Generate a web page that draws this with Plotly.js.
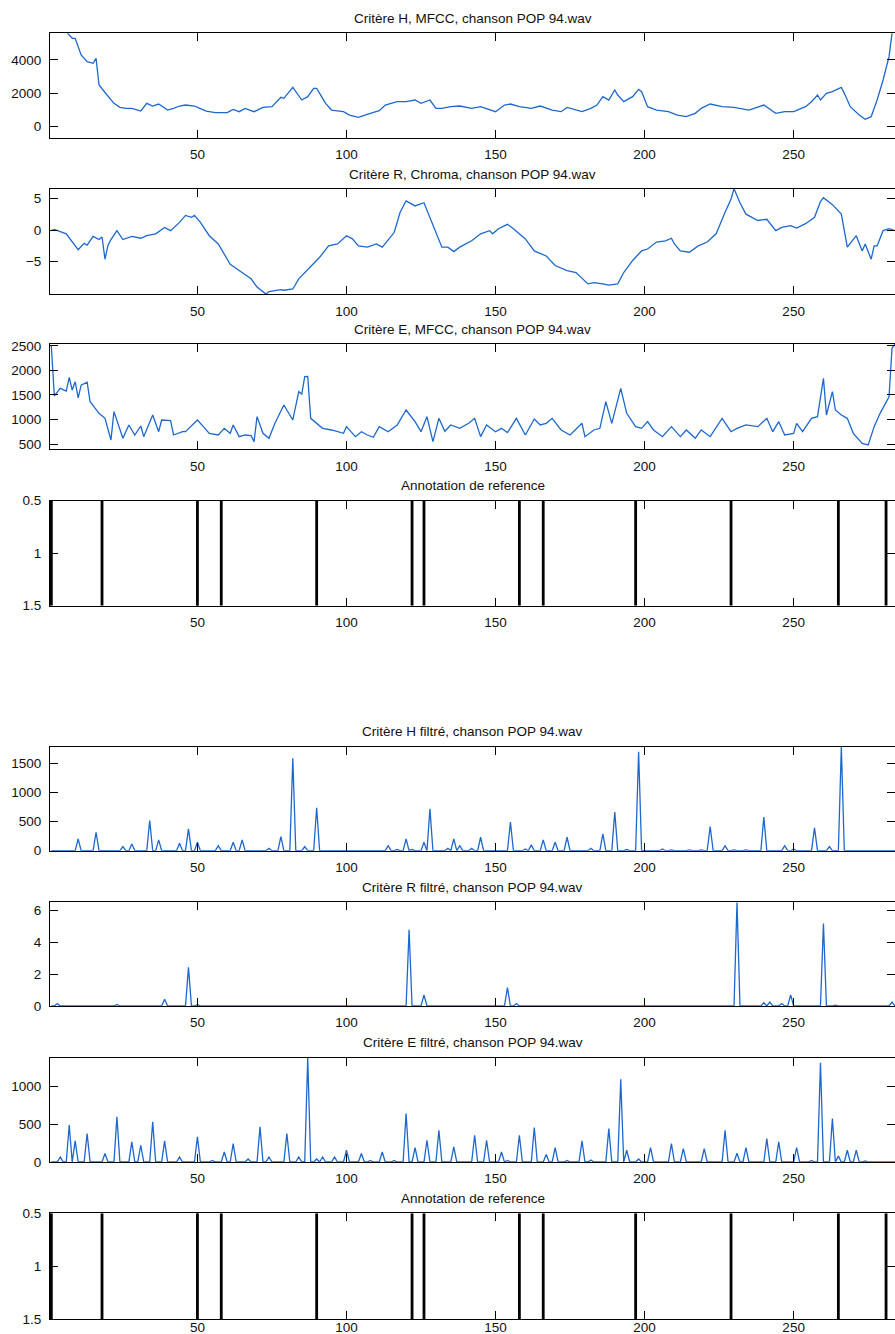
<!DOCTYPE html>
<html>
<head>
<meta charset="utf-8">
<script src="https://cdn.plot.ly/plotly-3.0.1.min.js"></script>
<style>html,body{margin:0;padding:0;background:#fff;}#chart{width:895px;height:1334px;}</style>
</head>
<body>
<div id="chart"></div>
<script>
// ---------- DATA ----------
const titles = [
  "Critère H, MFCC, chanson POP 94.wav",
  "Critère R, Chroma, chanson POP 94.wav",
  "Critère E, MFCC, chanson POP 94.wav",
  "Annotation de reference",
  "Critère H filtré, chanson POP 94.wav",
  "Critère R filtré, chanson POP 94.wav",
  "Critère E filtré, chanson POP 94.wav",
  "Annotation de reference"
];
const nFrames = 284;
const xTicks = [50, 100, 150, 200, 250];

// Critère H (MFCC)
const hX = [1,4,6,8,9,11,13,15,16,17,19,22,24,26,28,31,33,35,37,40,42,44,46,49,50,53,56,60,62,64,66,69,72,75,78,79,82,84,85,87,89,90,93,95,99,101,104,108,111,113,117,120,123,125,128,130,132,135,138,142,145,150,153,155,158,162,165,169,172,174,179,182,184,186,188,190,191,193,195,196,198,199,201,204,208,211,214,217,219,222,226,230,235,238,240,244,247,250,254,256,258,259,261,263,266,267,269,272,274,276,278,280,282,283,284];
const hY = [6800,6000,5700,5300,5300,4300,3900,3800,4100,2500,2050,1400,1160,1100,1100,940,1400,1240,1360,1000,1100,1240,1300,1240,1160,940,840,840,1040,900,1100,900,1160,1200,1760,1700,2360,1800,1600,1800,2300,2300,1400,1000,900,700,560,800,960,1300,1500,1500,1600,1400,1600,1100,1100,1200,1240,1100,1200,900,1300,1360,1200,1100,1240,1000,900,1160,900,1100,1300,1800,1600,2200,1900,1500,1700,1800,2240,2100,1200,1000,900,700,600,800,1100,1360,1200,1160,1000,1200,1300,800,900,900,1200,1500,1900,1600,2000,2100,2360,2000,1200,700,440,600,1600,2800,4200,5600,6400];

// Critère R (Chroma)
const rX = [1,2,6,10,12,13,15,17,18,19,20,21,23,25,28,31,33,36,39,41,44,46,48,49,51,54,57,61,64,68,70,73,74,76,78,79,82,84,87,91,94,97,100,102,104,107,110,112,116,118,120,123,126,128,132,134,136,138,142,145,148,149,151,154,156,160,163,167,170,174,177,181,183,186,188,191,193,196,199,201,204,207,209,210,212,215,218,221,224,227,229,230,232,234,238,241,244,246,249,251,254,257,259,260,263,266,268,271,273,274,276,277,278,280,282,284];
const rY = [-0.1,0.1,-0.6,-3.1,-2.1,-2.4,-1.0,-1.5,-1.1,-4.6,-2.4,-1.5,-0.1,-1.5,-1.0,-1.3,-0.9,-0.6,0.4,-0.1,1.2,2.3,2.0,2.3,1.2,-0.9,-2.2,-5.4,-6.4,-7.7,-9.0,-10.1,-9.7,-9.6,-9.4,-9.5,-9.3,-7.7,-6.2,-4.3,-2.5,-2.2,-0.9,-1.4,-2.5,-2.7,-2.2,-2.7,-0.4,2.8,4.6,3.8,4.3,2.0,-2.7,-2.7,-3.4,-2.7,-1.7,-0.6,-0.1,-0.6,0.2,0.9,0.2,-1.4,-3.3,-4.1,-5.6,-6.4,-6.7,-8.5,-8.3,-8.5,-8.7,-8.5,-6.7,-4.8,-3.3,-3.0,-1.9,-1.7,-1.3,-2.2,-3.3,-3.5,-2.5,-1.9,-0.6,2.8,4.9,6.5,4.3,2.5,1.5,1.7,-0.1,0.4,0.7,0.3,1.0,2.0,4.5,5.1,4.0,2.5,-2.7,-0.9,-3.3,-2.2,-4.6,-2.5,-2.5,-0.1,0.2,-0.1];

// Critère E (MFCC)
const eX = [1,2,4,6,7,8,9,10,11,13,14,17,19,21,22,25,27,29,31,32,35,37,38,41,42,45,46,50,52,54,57,59,61,62,64,66,68,69,70,72,74,76,79,82,84,85,86,87,88,90,92,95,99,100,103,105,107,109,111,114,117,120,123,125,127,129,131,133,135,138,141,143,145,147,150,152,154,157,160,163,165,167,169,172,175,179,180,183,185,187,189,192,194,197,199,201,203,206,209,212,214,217,219,222,226,229,231,234,238,241,243,245,247,250,251,253,256,258,260,261,263,264,266,268,270,273,275,277,279,282,283,284];
const eY = [2500,1480,1636,1580,1860,1600,1770,1440,1700,1760,1363,1126,1023,582,1160,616,888,684,867,650,1092,751,990,976,684,751,751,990,854,718,684,820,718,888,650,684,670,548,1058,718,616,922,1296,990,1567,1520,1873,1880,1024,922,820,786,718,854,650,751,684,637,854,751,888,1194,956,751,1058,548,1024,760,888,820,922,1024,650,888,751,820,732,1024,684,1010,888,922,1024,786,684,922,650,786,820,1363,922,1636,1126,854,820,956,786,650,854,650,786,616,786,650,1024,751,820,888,854,1024,751,956,684,718,922,751,1024,1058,1840,1092,1567,1194,1092,1024,718,514,480,854,1126,1465,2452,2540];

// Annotation de reference : frontières
const boundaries = [1, 18, 50, 58, 90, 122, 126, 158, 166, 197, 229, 265, 281];

// Critère H filtré : pics (trame, valeur), zéro ailleurs
const hfFrames = [10,16,25,28,34,37,44,47,50,57,62,65,74,78,82,86,90,98,102,114,117,120,122,126,128,134,136,138,142,145,155,160,162,166,170,174,182,186,190,194,198,206,209,215,219,222,227,230,234,240,247,250,257,262,266];
const hfValues = [201,316,69,115,517,184,126,374,143,86,143,184,40,241,1580,69,736,10,10,86,20,201,20,143,718,40,201,86,40,230,488,30,100,184,143,230,40,287,661,20,1695,30,15,15,15,414,86,15,15,575,86,30,391,69,1780];

// Critère R filtré
const rfFrames = [3,23,39,47,50,121,126,154,157,231,240,242,246,249,260,264,283];
const rfValues = [0.15,0.1,0.42,2.43,0.1,4.8,0.7,1.16,0.15,6.52,0.2,0.25,0.15,0.7,5.19,0.05,0.25];

// Critère E filtré
const efFrames = [4,7,9,13,19,23,28,31,35,39,44,50,55,59,62,67,71,74,80,84,87,90,92,96,100,105,108,112,116,120,123,127,131,136,143,147,152,154,158,163,167,170,174,179,182,188,192,194,198,202,209,213,220,227,231,234,241,245,251,256,259,263,265,268,271,274];
const efValues = [66,486,278,375,111,595,265,221,529,278,66,331,20,132,243,40,463,66,375,66,1376,40,66,66,155,111,20,132,20,640,190,287,419,199,353,287,132,20,353,455,100,190,20,278,25,441,1090,155,40,190,243,177,177,419,115,190,309,265,190,20,1310,574,77,155,155,15];

// ---------- LAYOUT CONSTANTS ----------
const W = 895, H = 1334;
const panelsPx = [ // [top, bottom] of each axes box, pixels
  [33.3,137.7],[189,294.3],[344,449.3],[500.7,605.7],
  [746.7,850.7],[902.3,1006],[1057.7,1162],[1213.3,1319.3]
];
const yRanges = [[-660,5600],[-10.14,6.47],[392,2540],[1.5,0.5],[0,1780],[0,6.52],[0,1376],[1.5,0.5]];
const yTicks = [[0,2000,4000],[-5,0,5],[500,1000,1500,2000,2500],[0.5,1,1.5],[0,500,1000,1500],[0,2,4,6],[0,500,1000],[0.5,1,1.5]];
const yTickText = [null,null,null,["0.5","1","1.5"],null,null,null,["0.5","1","1.5"]];

const blue = "rgb(28,104,206)";
const font = {family: "Liberation Sans, Arial, Helvetica, sans-serif", size: 13.5, color: "#111"};

function spikeSeries(frames, values) {
  const xs = [], ys = [];
  const m = new Map(frames.map((f, i) => [f, values[i]]));
  for (let f = 1; f <= nFrames; f++) { xs.push(f); ys.push(m.has(f) ? m.get(f) : 0); }
  return {x: xs, y: ys};
}
function boundarySeries(b) {
  const xs = [], ys = [];
  b.forEach(v => { xs.push(v, v, null); ys.push(0.5, 1.5, null); });
  return {x: xs, y: ys};
}

const series = [
  {x: hX, y: hY},
  {x: rX, y: rY},
  {x: eX, y: eY},
  boundarySeries(boundaries),
  spikeSeries(hfFrames, hfValues),
  spikeSeries(rfFrames, rfValues),
  spikeSeries(efFrames, efValues),
  boundarySeries(boundaries)
];

const data = [];
const layout = {
  width: W, height: H,
  margin: {l: 50, r: 0, t: 0, b: 0, pad: 0},
  paper_bgcolor: "#fff", plot_bgcolor: "#fff",
  showlegend: false,
  font: font,
  annotations: []
};

series.forEach((s, i) => {
  const k = i + 1;
  const isAnnot = (i === 3 || i === 7);
  data.push({
    type: "scatter", mode: "lines",
    x: s.x, y: s.y,
    xaxis: "x" + k, yaxis: "y" + k,
    line: {color: isAnnot ? "#000" : blue, width: isAnnot ? 2.8 : 1.3},
    hoverinfo: "skip"
  });
  const [top, bot] = panelsPx[i];
  const axCommon = {
    ticks: "inside", ticklen: 8, tickwidth: 1, tickcolor: "#000",
    showline: true, linecolor: "#000", linewidth: 1, mirror: "ticks",
    showgrid: false, zeroline: false, tickfont: font
  };
  layout["xaxis" + k] = Object.assign({}, axCommon, {
    domain: [0, 1], anchor: "y" + k, range: [0.55, 284],
    tickmode: "array", tickvals: xTicks, ticklabelstandoff: (k === 8 ? -5 : 4)
  });
  const ya = Object.assign({}, axCommon, {
    domain: [1 - bot / H, 1 - top / H], anchor: "x" + k, range: yRanges[i],
    tickmode: "array", tickvals: yTicks[i], ticklabelstandoff: 5
  });
  if (yTickText[i]) ya.ticktext = yTickText[i];
  layout["yaxis" + k] = ya;
  layout.annotations.push({
    text: titles[i], xref: "paper", yref: "paper",
    x: 0.5, y: 1 - (top - 15) / H, xanchor: "center", yanchor: "middle",
    showarrow: false, font: font
  });
});

Plotly.newPlot("chart", data, layout, {staticPlot: true, displayModeBar: false});
</script>
</body>
</html>
